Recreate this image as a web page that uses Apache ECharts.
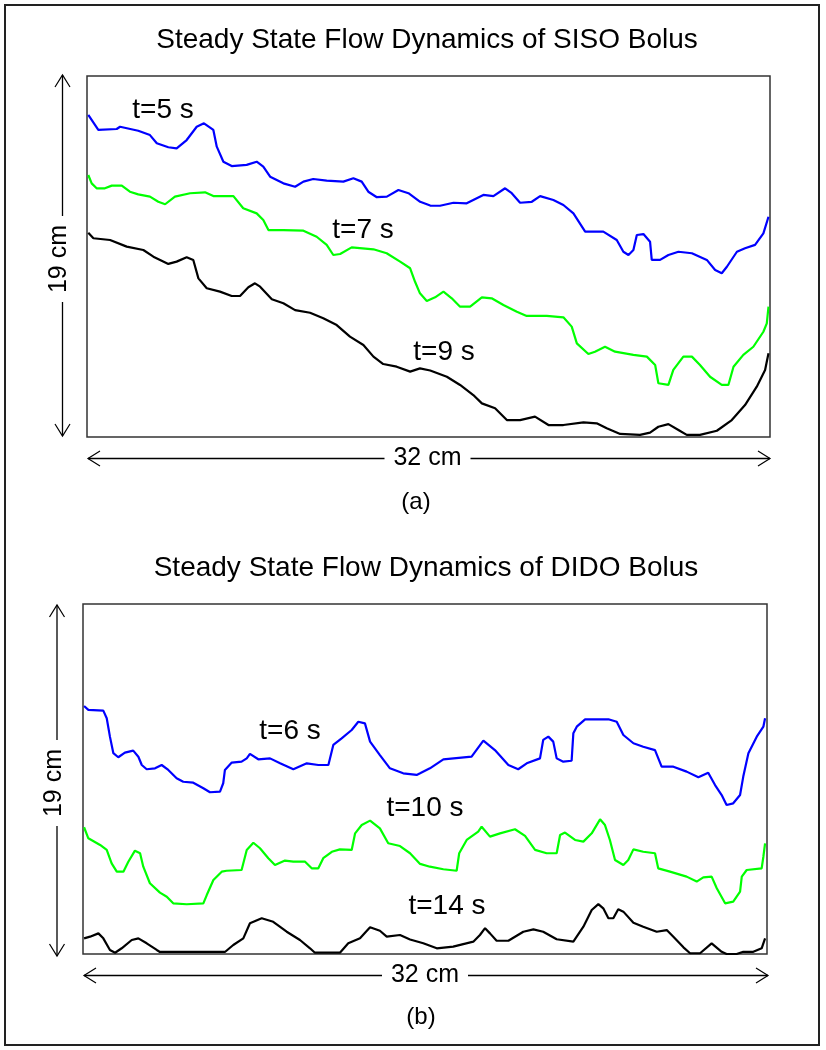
<!DOCTYPE html>
<html>
<head>
<meta charset="utf-8">
<script src="https://cdn.jsdelivr.net/npm/echarts@6/dist/echarts.min.js"></script>
<style>
html,body{margin:0;padding:0;background:#fff;}
#chart{width:826px;height:1050px;}
</style>
</head>
<body>
<div id="chart"></div>
<script>
// ---- Data (x in cm along 32 cm width, y in cm along 19 cm height) ----
var panelTitles = ["Steady State Flow Dynamics of SISO Bolus", "Steady State Flow Dynamics of DIDO Bolus"];
var panelTags = ["(a)", "(b)"];
var widthLabel = "32 cm";
var heightLabel = "19 cm";
var widthCm = 32;
var heightCm = 19;

var sisoNames = ["t=5 s", "t=7 s", "t=9 s"];
var didoNames = ["t=6 s", "t=10 s", "t=14 s"];

var sisoT5 = [[0.06,16.95],[0.53,16.16],[1.39,16.21],[1.55,16.33],[2.40,16.12],[2.95,15.89],[3.27,15.46],[3.81,15.25],[4.20,15.19],[4.67,15.63],[5.14,16.33],[5.48,16.51],[5.92,16.16],[6.08,15.28],[6.39,14.49],[6.78,14.26],[7.48,14.32],[7.95,14.49],[8.26,14.23],[8.58,13.70],[9.20,13.35],[9.75,13.17],[10.14,13.44],[10.60,13.58],[11.23,13.49],[12.01,13.44],[12.48,13.62],[12.87,13.44],[13.18,12.91],[13.58,12.62],[14.05,12.65],[14.59,13.00],[15.06,12.83],[15.61,12.38],[16.08,12.18],[16.54,12.17],[17.17,12.33],[17.79,12.30],[18.57,12.74],[19.04,12.68],[19.59,13.09],[19.90,12.83],[20.29,12.33],[20.84,12.38],[21.23,12.68],[21.85,12.47],[22.32,12.21],[22.79,11.77],[23.34,10.81],[24.19,10.81],[24.82,10.37],[25.13,9.75],[25.37,9.58],[25.60,9.84],[25.76,10.63],[26.07,10.68],[26.38,10.28],[26.46,9.32],[26.85,9.32],[27.24,9.58],[27.71,9.75],[28.34,9.67],[29.04,9.32],[29.43,8.79],[29.74,8.62],[29.98,8.96],[30.45,9.75],[30.83,9.93],[31.30,10.11],[31.69,10.72],[31.93,11.59]];

var sisoT7 = [[0.06,13.79],[0.22,13.35],[0.45,13.09],[0.84,13.09],[1.16,13.23],[1.63,13.23],[2.01,12.91],[2.40,12.77],[2.95,12.65],[3.34,12.38],[3.66,12.25],[4.12,12.65],[4.83,12.83],[5.53,12.88],[5.92,12.68],[6.86,12.68],[7.32,12.04],[7.95,11.77],[8.26,11.42],[8.50,10.89],[9.20,10.89],[10.14,10.86],[10.76,10.54],[11.23,10.11],[11.54,9.58],[11.86,9.63],[12.40,9.98],[13.42,9.88],[14.04,9.67],[14.67,9.23],[15.14,8.88],[15.37,8.17],[15.60,7.56],[15.92,7.16],[16.31,7.35],[16.70,7.65],[17.09,7.30],[17.48,6.86],[17.95,6.86],[18.50,7.35],[18.96,7.30],[19.51,6.95],[20.14,6.59],[20.60,6.37],[21.54,6.37],[22.32,6.30],[22.71,5.81],[22.95,4.93],[23.49,4.37],[23.80,4.49],[24.27,4.75],[24.74,4.49],[25.60,4.32],[26.23,4.23],[26.62,3.79],[26.77,2.83],[27.24,2.74],[27.47,3.53],[27.94,4.23],[28.34,4.23],[28.72,3.79],[29.19,3.17],[29.74,2.74],[30.05,2.74],[30.29,3.70],[30.75,4.32],[31.22,4.75],[31.69,5.54],[31.85,5.98],[31.93,6.86]];

var sisoT9 = [[0.06,10.75],[0.30,10.46],[1.08,10.37],[1.86,10.02],[2.64,9.84],[3.11,9.49],[3.81,9.11],[4.20,9.23],[4.67,9.46],[4.98,9.32],[5.22,8.35],[5.61,7.83],[6.23,7.65],[6.78,7.42],[7.17,7.42],[7.56,7.88],[7.87,8.09],[8.11,7.91],[8.66,7.25],[9.20,7.04],[9.75,6.68],[10.45,6.54],[11.07,6.25],[11.70,5.89],[12.32,5.28],[12.95,4.84],[13.42,4.23],[13.88,3.84],[14.51,3.70],[15.14,3.44],[15.60,3.61],[16.08,3.50],[16.86,3.17],[17.48,2.74],[18.10,2.21],[18.50,1.77],[19.12,1.51],[19.67,0.89],[20.29,0.89],[20.99,1.07],[21.62,0.63],[22.32,0.63],[23.26,0.77],[23.88,0.72],[24.35,0.46],[24.98,0.16],[25.91,0.11],[26.38,0.23],[26.77,0.54],[27.24,0.68],[27.71,0.37],[28.10,0.11],[28.72,0.11],[29.51,0.33],[30.21,0.89],[30.83,1.68],[31.38,2.65],[31.77,3.53],[31.93,4.41]];

var didoT6 = [[0.05,13.46],[0.25,13.25],[0.95,13.21],[1.11,12.80],[1.26,11.80],[1.42,10.90],[1.65,10.68],[1.96,10.93],[2.35,11.04],[2.59,10.71],[2.75,10.26],[2.98,10.03],[3.37,10.08],[3.68,10.26],[3.99,9.99],[4.38,9.54],[4.69,9.35],[5.16,9.30],[5.63,9.00],[5.94,8.78],[6.41,8.81],[6.56,9.27],[6.64,9.99],[6.96,10.39],[7.42,10.44],[7.66,10.62],[7.81,10.86],[8.20,10.57],[8.75,10.62],[9.22,10.35],[9.84,10.03],[10.47,10.35],[11.01,10.26],[11.48,10.26],[11.71,11.35],[12.10,11.71],[12.57,12.16],[12.88,12.61],[13.19,12.52],[13.43,11.53],[13.89,10.80],[14.36,10.08],[14.98,9.81],[15.61,9.72],[15.77,9.81],[16.23,10.08],[16.86,10.57],[18.18,10.71],[18.73,11.58],[19.27,11.07],[19.90,10.26],[20.36,10.03],[20.76,10.35],[21.38,10.62],[21.53,11.62],[21.77,11.80],[22.00,11.53],[22.16,10.62],[22.47,10.44],[22.86,10.49],[22.94,11.98],[23.10,12.34],[23.49,12.74],[24.58,12.74],[24.97,12.61],[25.28,11.89],[25.75,11.44],[26.21,11.25],[26.76,11.07],[27.07,10.17],[27.62,10.17],[28.24,9.90],[28.79,9.59],[29.25,9.84],[29.57,9.17],[29.88,8.63],[30.11,8.09],[30.42,8.18],[30.74,8.63],[30.89,9.63],[31.13,10.90],[31.52,11.80],[31.83,12.34],[31.91,12.80]];

var didoT10 = [[0.05,6.88],[0.25,6.28],[0.80,5.92],[1.11,5.65],[1.34,4.92],[1.58,4.47],[1.89,4.47],[2.12,5.01],[2.43,5.61],[2.67,5.47],[2.82,4.74],[3.13,3.84],[3.60,3.33],[3.92,3.11],[4.22,2.75],[4.85,2.70],[5.63,2.75],[5.79,3.20],[6.10,4.02],[6.49,4.47],[6.72,4.52],[7.42,4.56],[7.66,5.65],[7.97,6.04],[8.28,5.74],[8.67,5.20],[8.98,4.83],[9.45,5.07],[9.84,5.01],[10.39,5.01],[10.70,4.65],[11.01,4.65],[11.24,5.20],[11.64,5.55],[12.02,5.68],[12.57,5.65],[12.73,6.55],[13.04,7.00],[13.43,7.24],[13.89,6.82],[14.28,6.01],[14.83,5.86],[15.30,5.47],[15.77,4.89],[16.23,4.74],[16.86,4.60],[17.48,4.52],[17.60,5.47],[17.95,6.19],[18.49,6.64],[18.65,6.91],[19.04,6.37],[19.51,6.55],[20.21,6.77],[20.68,6.41],[21.15,5.65],[21.69,5.47],[22.16,5.47],[22.32,6.46],[22.55,6.59],[23.02,6.19],[23.41,6.10],[23.80,6.55],[24.19,7.31],[24.42,7.00],[24.65,6.19],[24.89,5.10],[25.28,4.83],[25.51,5.10],[25.75,5.68],[26.21,5.55],[26.76,5.47],[26.91,4.65],[27.46,4.47],[28.24,4.20],[28.71,3.93],[29.02,4.16],[29.41,4.20],[29.65,3.57],[30.04,2.75],[30.42,2.84],[30.74,3.38],[30.82,4.20],[31.05,4.56],[31.75,4.65],[31.83,5.28],[31.91,6.01]];

var didoT14 = [[0.05,0.85],[0.33,0.94],[0.72,1.12],[0.95,0.85],[1.26,0.22],[1.50,0.07],[1.81,0.31],[2.28,0.76],[2.59,0.85],[2.98,0.58],[3.45,0.22],[3.60,0.11],[5.24,0.11],[6.64,0.11],[7.03,0.49],[7.50,0.85],[7.81,1.67],[8.36,1.94],[8.90,1.75],[9.53,1.21],[10.15,0.76],[10.62,0.31],[10.85,0.07],[12.02,0.07],[12.41,0.58],[12.96,0.85],[13.43,1.45],[13.89,1.26],[14.21,0.94],[14.83,1.03],[15.30,0.79],[15.92,0.58],[16.55,0.31],[17.32,0.40],[18.26,0.67],[18.57,1.03],[18.81,1.40],[19.04,1.12],[19.35,0.72],[19.90,0.72],[20.60,1.21],[21.07,1.34],[21.53,1.21],[22.16,0.80],[22.94,0.67],[23.41,1.48],[23.80,2.39],[24.11,2.71],[24.34,2.48],[24.58,1.94],[24.81,1.94],[25.04,2.43],[25.28,2.30],[25.75,1.70],[26.21,1.48],[26.84,1.21],[27.31,1.30],[27.62,0.94],[28.09,0.36],[28.40,0.04],[28.87,0.04],[29.41,0.58],[29.88,0.12],[30.11,0.00],[30.58,0.00],[30.89,0.12],[31.36,0.12],[31.75,0.31],[31.91,0.85]];

// ---- Chart ----
var chart = echarts.init(document.getElementById('chart'), null, {renderer: 'canvas'});
var FONT = 'Liberation Sans, Arial, sans-serif';
var lineColors = ['#0000ff', '#00ff00', '#000000'];

function mkSeries(name, data, idx, color) {
  return {
    name: name, type: 'line', xAxisIndex: idx, yAxisIndex: idx,
    data: data, symbol: 'none', clip: false, animation: false,
    lineStyle: {color: color, width: 2.2}, itemStyle: {color: color}
  };
}

function txt(x, y, s, size, extra) {
  var o = {type: 'text', x: x, y: y, silent: true,
    style: {text: s, fill: '#000', font: size + 'px ' + FONT, textAlign: 'center', textVerticalAlign: 'middle'}};
  if (extra) for (var k in extra) o[k] = extra[k];
  return o;
}
function seg(x1, y1, x2, y2, w) {
  return {type: 'line', silent: true, shape: {x1: x1, y1: y1, x2: x2, y2: y2}, style: {stroke: '#000', lineWidth: w || 1.3}};
}
function poly(pts) {
  return {type: 'polyline', silent: true, shape: {points: pts}, style: {stroke: '#000', lineWidth: 1.2, fill: null}};
}
// vertical dimension arrow
function vArrow(x, y1, y2, labelY, gap) {
  return [
    seg(x, y1, x, labelY - gap), seg(x, labelY + gap, x, y2),
    poly([[x - 7.5, y1 + 12], [x, y1], [x + 7.5, y1 + 12]]),
    poly([[x - 7.5, y2 - 12], [x, y2], [x + 7.5, y2 - 12]]),
    txt(x - 3, labelY, heightLabel, 25, {rotation: Math.PI / 2})
  ];
}
function hArrow(y, x1, x2, labelX, gap) {
  return [
    seg(x1, y, labelX - gap, y), seg(labelX + gap, y, x2, y),
    poly([[x1 + 12, y - 7.5], [x1, y], [x1 + 12, y + 7.5]]),
    poly([[x2 - 12, y - 7.5], [x2, y], [x2 - 12, y + 7.5]]),
    txt(labelX, y, widthLabel, 25)
  ];
}

var graphics = [];
graphics.push({type: 'rect', silent: true, shape: {x: 5, y: 5, width: 814, height: 1040},
  style: {stroke: '#222', lineWidth: 2, fill: null}});
graphics.push(txt(427, 40, panelTitles[0], 28));
graphics.push(txt(426, 568, panelTitles[1], 28));
graphics = graphics.concat(vArrow(62.5, 75, 436, 259, 43));
graphics = graphics.concat(hArrow(458.5, 88, 770, 427.5, 43));
graphics.push(txt(416, 502, panelTags[0], 24));
graphics = graphics.concat(vArrow(57, 605, 956, 783, 43));
graphics = graphics.concat(hArrow(975.5, 84, 768, 425, 43));
graphics.push(txt(421, 1017, panelTags[1], 24));
// curve labels
graphics.push(txt(163, 110, sisoNames[0], 28));
graphics.push(txt(363, 230, sisoNames[1], 28));
graphics.push(txt(444, 352, sisoNames[2], 28));
graphics.push(txt(290, 731, didoNames[0], 28));
graphics.push(txt(425, 808, didoNames[1], 28));
graphics.push(txt(447, 906, didoNames[2], 28));

var axisX = function (g) { return {gridIndex: g, type: 'value', min: 0, max: widthCm, show: false}; };
var axisY = function (g) { return {gridIndex: g, type: 'value', min: 0, max: heightCm, show: false}; };

chart.setOption({
  backgroundColor: '#ffffff',
  animation: false,
  grid: [
    {left: 87, top: 76, width: 683, height: 361, show: true, borderColor: '#333', borderWidth: 1.5, backgroundColor: 'transparent'},
    {left: 83, top: 604, width: 684, height: 350, show: true, borderColor: '#333', borderWidth: 1.5, backgroundColor: 'transparent'}
  ],
  xAxis: [axisX(0), axisX(1)],
  yAxis: [axisY(0), axisY(1)],
  series: [
    mkSeries(sisoNames[0], sisoT5, 0, lineColors[0]),
    mkSeries(sisoNames[1], sisoT7, 0, lineColors[1]),
    mkSeries(sisoNames[2], sisoT9, 0, lineColors[2]),
    mkSeries(didoNames[0], didoT6, 1, lineColors[0]),
    mkSeries(didoNames[1], didoT10, 1, lineColors[1]),
    mkSeries(didoNames[2], didoT14, 1, lineColors[2])
  ],
  graphic: graphics
});
</script>
</body>
</html>
